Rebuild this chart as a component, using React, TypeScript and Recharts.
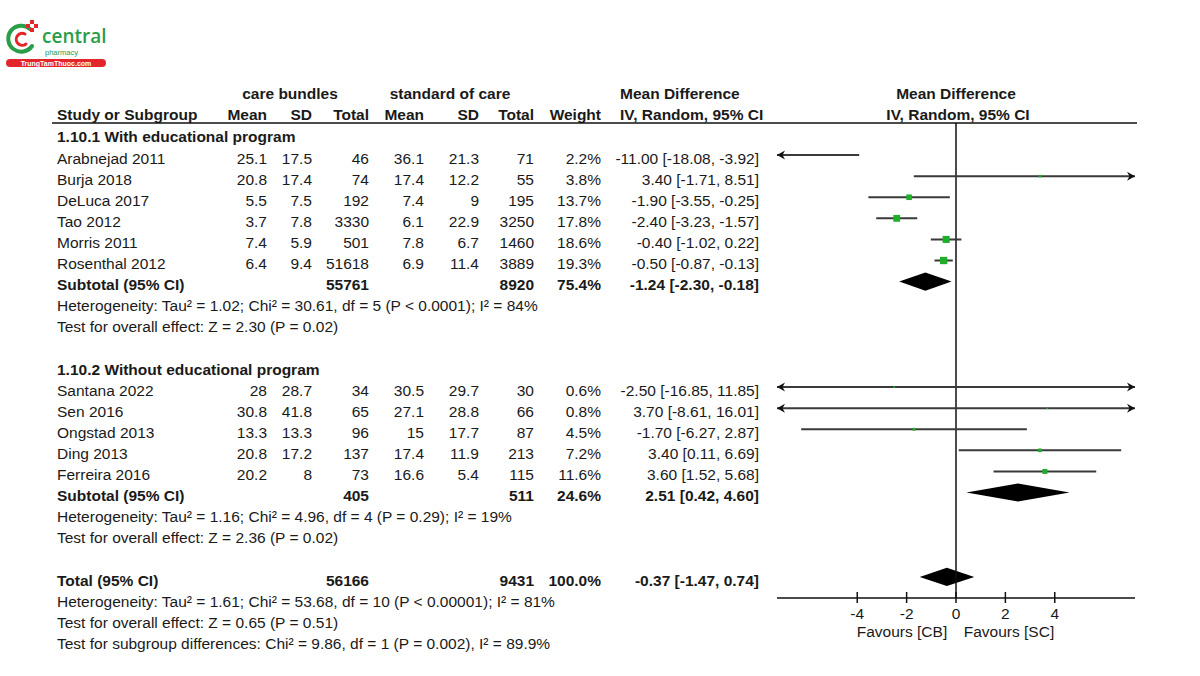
import React from 'react';
import { ComposedChart, Line, Area, Scatter, XAxis, YAxis, ReferenceLine } from 'recharts';

const studies = ['Arabnejad 2011', 'Burja 2018', 'DeLuca 2017', 'Tao 2012', 'Morris 2011', 'Rosenthal 2012', 'Santana 2022', 'Sen 2016', 'Ongstad 2013', 'Ding 2013', 'Ferreira 2016'];
const groupOf = [1, 1, 1, 1, 1, 1, 2, 2, 2, 2, 2];
const cbMean = [25.1, 20.8, 5.5, 3.7, 7.4, 6.4, 28, 30.8, 13.3, 20.8, 20.2];
const cbSd = [17.5, 17.4, 7.5, 7.8, 5.9, 9.4, 28.7, 41.8, 13.3, 17.2, 8];
const cbTotal = [46, 74, 192, 3330, 501, 51618, 34, 65, 96, 137, 73];
const scMean = [36.1, 17.4, 7.4, 6.1, 7.8, 6.9, 30.5, 27.1, 15, 17.4, 16.6];
const scSd = [21.3, 12.2, 9, 22.9, 6.7, 11.4, 29.7, 28.8, 17.7, 11.9, 5.4];
const scTotal = [71, 55, 195, 3250, 1460, 3889, 30, 66, 87, 213, 115];
const weight = [2.2, 3.8, 13.7, 17.8, 18.6, 19.3, 0.6, 0.8, 4.5, 7.2, 11.6];
const md = [-11.0, 3.4, -1.9, -2.4, -0.4, -0.5, -2.5, 3.7, -1.7, 3.4, 3.6];
const ciLow = [-18.08, -1.71, -3.55, -3.23, -1.02, -0.87, -16.85, -8.61, -6.27, 0.11, 1.52];
const ciHigh = [-3.92, 8.51, -0.25, -1.57, 0.22, -0.13, 11.85, 16.01, 2.87, 6.69, 5.68];

const groupTitles = ['1.10.1 With educational program', '1.10.2 Without educational program'];
const pooledLabels = ['Subtotal (95% CI)', 'Subtotal (95% CI)', 'Total (95% CI)'];
const pooledCbTotal = [55761, 405, 56166];
const pooledScTotal = [8920, 511, 9431];
const pooledWeight = [75.4, 24.6, 100.0];
const pooledMd = [-1.24, 2.51, -0.37];
const pooledLow = [-2.3, 0.42, -1.47];
const pooledHigh = [-0.18, 4.6, 0.74];

const heterogeneity = [
  'Heterogeneity: Tau² = 1.02; Chi² = 30.61, df = 5 (P < 0.0001); I² = 84%',
  'Heterogeneity: Tau² = 1.16; Chi² = 4.96, df = 4 (P = 0.29); I² = 19%',
  'Heterogeneity: Tau² = 1.61; Chi² = 53.68, df = 10 (P < 0.00001); I² = 81%',
];
const overallEffect = [
  'Test for overall effect: Z = 2.30 (P = 0.02)',
  'Test for overall effect: Z = 2.36 (P = 0.02)',
  'Test for overall effect: Z = 0.65 (P = 0.51)',
];
const subgroupTest = 'Test for subgroup differences: Chi² = 9.86, df = 1 (P = 0.002), I² = 89.9%';
const xTicks = [-4, -2, 0, 2, 4];

const X_MIN = -7.25;
const X_MAX = 7.25;
const Y_TOP = -1.52;
const Y_BOTTOM = 21;
const ROW0 = 155;
const ROW_H = 21.1;
const FONT = '"Liberation Sans", Arial, Helvetica, sans-serif';
const INK = '#1a1a1a';
const GREEN = '#1fae2a';

// table row layout: group header, studies, subtotal, two notes, blank line
const studyRow: number[] = [];
const pooledRow: number[] = [];
const tableRows: any[] = [];
let r = -1;
groupTitles.forEach((title, g) => {
  tableRows.push({ kind: 'group', text: title, row: r++ });
  studies.forEach((_, i) => {
    if (groupOf[i] === g + 1) {
      studyRow[i] = r;
      tableRows.push({ kind: 'study', i, row: r++ });
    }
  });
  pooledRow[g] = r;
  tableRows.push({ kind: 'pooled', p: g, row: r++ });
  tableRows.push({ kind: 'note', text: heterogeneity[g], row: r++ });
  tableRows.push({ kind: 'note', text: overallEffect[g], row: r++ });
  r++;
});
pooledRow[2] = r;
tableRows.push({ kind: 'pooled', p: 2, row: r++ });
tableRows.push({ kind: 'note', text: heterogeneity[2], row: r++ });
tableRows.push({ kind: 'note', text: overallEffect[2], row: r++ });
tableRows.push({ kind: 'note', text: subgroupTest, row: r++ });

const ciData = studies.flatMap((_, i) => [
  { x: ciLow[i], y: studyRow[i] },
  { x: ciHigh[i], y: studyRow[i] },
  { x: ciHigh[i], y: null },
]);
const pointData = studies.map((_, i) => ({ x: md[i], y: studyRow[i], w: weight[i] }));
const arrowData = studies.flatMap((_, i) => [
  ...(ciLow[i] < X_MIN ? [{ x: X_MIN, y: studyRow[i], dir: -1 }] : []),
  ...(ciHigh[i] > X_MAX ? [{ x: X_MAX, y: studyRow[i], dir: 1 }] : []),
]);
const diamondData = pooledMd.map((m, p) => [
  { x: pooledLow[p], band: [pooledRow[p], pooledRow[p]] },
  { x: m, band: [pooledRow[p] - 0.43, pooledRow[p] + 0.43] },
  { x: pooledHigh[p], band: [pooledRow[p], pooledRow[p]] },
]);

const fmt = (v: number) => v.toFixed(2);
const ciText = (m: number, lo: number, hi: number) => `${fmt(m)} [${fmt(lo)}, ${fmt(hi)}]`;

function Square(props: any) {
  const { cx, cy, payload } = props;
  const s = 1.5 + payload.w * 0.3;
  return <rect x={cx - s / 2} y={cy - s / 2} width={s} height={s} fill={GREEN} />;
}

function Arrow(props: any) {
  const { cx, cy, payload } = props;
  const d = payload.dir;
  const pts = `${cx},${cy} ${cx - d * 8},${cy - 4.5} ${cx - d * 5.5},${cy} ${cx - d * 8},${cy + 4.5}`;
  return <polygon points={pts} fill="#111" />;
}

function AxisTick(props: any) {
  const { x, y, payload } = props;
  return (
    <g>
      <line x1={x} x2={x} y1={y - 6} y2={y + 5} stroke="#111" strokeWidth={1.5} />
      <text x={x} y={y + 21} textAnchor="middle" fontSize={15.5} fill={INK} fontFamily={FONT}>
        {payload.value}
      </text>
    </g>
  );
}

const COL = { study: 57, cbMean: 267, cbSd: 312, cbTotal: 369, scMean: 424, scSd: 479, scTotal: 534, weight: 601, md: 759 };

function T({ x, row, anchor = 'start', bold = false, dy = 8.5, children }: any) {
  return (
    <text x={x} y={ROW0 + ROW_H * row + dy} textAnchor={anchor} fontWeight={bold ? 'bold' : 'normal'}>
      {children}
    </text>
  );
}

function Logo() {
  return (
    <g>
      <path d="M 30 29 A 13 13 0 1 0 32 46" fill="none" stroke="#2a9d48" strokeWidth={4} strokeLinecap="round" />
      <path d="M 25 34 A 6 6 0 1 0 26 44" fill="none" stroke="#e3262b" strokeWidth={3} strokeLinecap="round" />
      <rect x={30} y={20} width={4} height={4} fill="#e3262b" />
      <rect x={30} y={28} width={4} height={4} fill="#e3262b" />
      <rect x={26} y={24} width={4} height={4} fill="#e3262b" />
      <rect x={34} y={24} width={4} height={4} fill="#e3262b" />
      <text x={42} y={42.5} fontSize={19} fontWeight={600} fill="#2a9d48" fontFamily='"Open Sans", sans-serif'>central</text>
      <text x={45} y={55} fontSize={7.5} fill="#2a9d48" fontFamily={FONT}>pharmacy</text>
      <rect x={6} y={59} width={100} height={8} rx={4} fill="#e3262b" />
      <text x={56} y={65.6} textAnchor="middle" fontSize={7} fontWeight="bold" fill="#fff" fontFamily={FONT}>TrungTamThuoc.com</text>
    </g>
  );
}

export default function App() {
  return (
    <div style={{ position: 'relative', width: 1200, height: 676, background: '#fff' }}>
      <style>{'body{margin:0}'}</style>
      <div style={{ position: 'absolute', left: 0, top: 0 }}>
        <ComposedChart width={1200} height={676} margin={{ top: 123, right: 65, bottom: 48, left: 777 }}>
          <XAxis
            type="number"
            dataKey="x"
            domain={[X_MIN, X_MAX]}
            allowDataOverflow
            ticks={xTicks}
            interval={0}
            height={30}
            tickSize={0}
            tickMargin={0}
            tickLine={false}
            axisLine={{ stroke: '#111', strokeWidth: 1.5 }}
            tick={<AxisTick />}
          />
          <YAxis type="number" dataKey="y" domain={[Y_TOP, Y_BOTTOM]} reversed allowDataOverflow hide width={0} />
          <ReferenceLine x={0} stroke="#111" strokeWidth={1.5} />
          <Line data={ciData} dataKey="y" stroke="#3a3a3a" strokeWidth={2} dot={false} activeDot={false} isAnimationActive={false} connectNulls={false} />
          {diamondData.map((d, p) => (
            <Area key={p} data={d} dataKey="band" type="linear" stroke="none" fill="#000" fillOpacity={1} isAnimationActive={false} activeDot={false} />
          ))}
          <Scatter data={pointData} shape={<Square />} isAnimationActive={false} />
          <Scatter data={arrowData} shape={<Arrow />} isAnimationActive={false} />
        </ComposedChart>
      </div>
      <svg width={1200} height={676} style={{ position: 'absolute', left: 0, top: 0, pointerEvents: 'none' }} fontFamily={FONT} fontSize={15.5} fill={INK}>
        <Logo />
        {/* column headers */}
        <T x={290} row={-3} anchor="middle" bold dy={7.5}>care bundles</T>
        <T x={450} row={-3} anchor="middle" bold dy={7.5}>standard of care</T>
        <T x={620} row={-3} bold dy={7.5}>Mean Difference</T>
        <T x={956} row={-3} anchor="middle" bold dy={7.5}>Mean Difference</T>
        <T x={COL.study} row={-2} bold dy={7.5}>Study or Subgroup</T>
        <T x={COL.cbMean} row={-2} anchor="end" bold dy={7.5}>Mean</T>
        <T x={COL.cbSd} row={-2} anchor="end" bold dy={7.5}>SD</T>
        <T x={COL.cbTotal} row={-2} anchor="end" bold dy={7.5}>Total</T>
        <T x={COL.scMean} row={-2} anchor="end" bold dy={7.5}>Mean</T>
        <T x={COL.scSd} row={-2} anchor="end" bold dy={7.5}>SD</T>
        <T x={COL.scTotal} row={-2} anchor="end" bold dy={7.5}>Total</T>
        <T x={COL.weight} row={-2} anchor="end" bold dy={7.5}>Weight</T>
        <T x={620} row={-2} bold dy={7.5}>IV, Random, 95% CI</T>
        <T x={958} row={-2} anchor="middle" bold dy={7.5}>IV, Random, 95% CI</T>
        <line x1={52} x2={1137} y1={123} y2={123} stroke="#111" strokeWidth={1.5} />

        {tableRows.map((tr, k) => {
          if (tr.kind === 'group') return <T key={k} x={COL.study} row={tr.row} bold>{tr.text}</T>;
          if (tr.kind === 'note') return <T key={k} x={COL.study} row={tr.row}>{tr.text}</T>;
          if (tr.kind === 'study') {
            const i = tr.i;
            return (
              <g key={k}>
                <T x={COL.study} row={tr.row}>{studies[i]}</T>
                <T x={COL.cbMean} row={tr.row} anchor="end">{cbMean[i]}</T>
                <T x={COL.cbSd} row={tr.row} anchor="end">{cbSd[i]}</T>
                <T x={COL.cbTotal} row={tr.row} anchor="end">{cbTotal[i]}</T>
                <T x={COL.scMean} row={tr.row} anchor="end">{scMean[i]}</T>
                <T x={COL.scSd} row={tr.row} anchor="end">{scSd[i]}</T>
                <T x={COL.scTotal} row={tr.row} anchor="end">{scTotal[i]}</T>
                <T x={COL.weight} row={tr.row} anchor="end">{weight[i].toFixed(1)}%</T>
                <T x={COL.md} row={tr.row} anchor="end">{ciText(md[i], ciLow[i], ciHigh[i])}</T>
              </g>
            );
          }
          const p = tr.p;
          return (
            <g key={k}>
              <T x={COL.study} row={tr.row} bold>{pooledLabels[p]}</T>
              <T x={COL.cbTotal} row={tr.row} anchor="end" bold>{pooledCbTotal[p]}</T>
              <T x={COL.scTotal} row={tr.row} anchor="end" bold>{pooledScTotal[p]}</T>
              <T x={COL.weight} row={tr.row} anchor="end" bold>{pooledWeight[p].toFixed(1)}%</T>
              <T x={COL.md} row={tr.row} anchor="end" bold>{ciText(pooledMd[p], pooledLow[p], pooledHigh[p])}</T>
            </g>
          );
        })}

        <text x={902} y={637} textAnchor="middle">Favours [CB]</text>
        <text x={1009} y={637} textAnchor="middle">Favours [SC]</text>
      </svg>
    </div>
  );
}
